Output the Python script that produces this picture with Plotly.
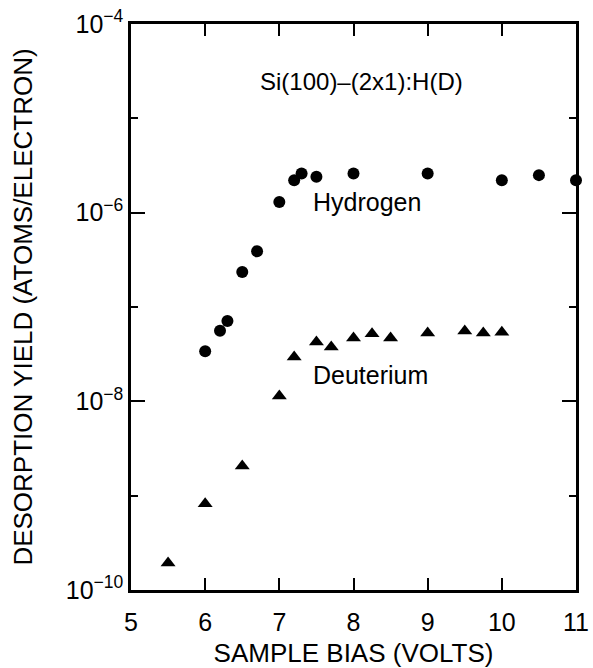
import plotly.graph_objects as go

# Hydrogen (circles)
h_bias = [6.0, 6.2, 6.3, 6.5, 6.7, 7.0, 7.2, 7.3, 7.5, 8.0, 9.0, 10.0, 10.5, 11.0]
h_yield = [3.4e-8, 5.6e-8, 7.1e-8, 2.35e-7, 3.9e-7, 1.3e-6, 2.2e-6, 2.6e-6, 2.4e-6,
           2.6e-6, 2.6e-6, 2.2e-6, 2.5e-6, 2.2e-6]

# Deuterium (triangles)
d_bias = [5.5, 6.0, 6.5, 7.0, 7.2, 7.5, 7.7, 8.0, 8.25, 8.5, 9.0, 9.5, 9.75, 10.0]
d_yield = [1.93e-10, 8.2e-10, 2.06e-9, 1.14e-8, 2.95e-8, 4.25e-8, 3.77e-8, 4.7e-8,
           5.2e-8, 4.7e-8, 5.3e-8, 5.56e-8, 5.3e-8, 5.4e-8]

x_ticks = [5, 6, 7, 8, 9, 10, 11]
y_tickvals = [1e-10, 1e-8, 1e-6, 1e-4]
y_ticktext = ["10<sup>−10</sup>", "10<sup>−8</sup>", "10<sup>−6</sup>", "10<sup>−4</sup>"]

FONT = "Liberation Sans, Arial, sans-serif"

fig = go.Figure()
fig.add_trace(go.Scatter(x=h_bias, y=h_yield, mode="markers", name="Hydrogen",
                         marker=dict(symbol="circle", size=12, color="black"),
                         cliponaxis=False))
fig.add_trace(go.Scatter(x=d_bias, y=d_yield, mode="markers", name="Deuterium",
                         marker=dict(symbol="triangle-up", size=13, color="black"),
                         cliponaxis=False))

fig.update_layout(
    width=593, height=668,
    margin=dict(l=131, r=17, t=24, b=78),
    paper_bgcolor="white", plot_bgcolor="white",
    showlegend=False,
    font=dict(family=FONT, color="black", size=25),
    xaxis=dict(range=[5, 11], tickvals=x_ticks, ticktext=[str(v) for v in x_ticks],
               showline=True, linecolor="black", linewidth=2.5, mirror="ticks",
               ticks="inside", ticklen=12, tickwidth=1.5, tickcolor="black",
               showgrid=False, zeroline=False, tickfont=dict(size=25),
               ticklabelstandoff=8, automargin=False,
               title=dict(text="SAMPLE BIAS (VOLTS)", font=dict(size=26), standoff=14)),
    yaxis=dict(type="log", range=[-10, -4], tickvals=y_tickvals, ticktext=y_ticktext,
               showline=True, linecolor="black", linewidth=2.5, mirror="ticks",
               ticks="inside", ticklen=14, tickwidth=1.5, tickcolor="black",
               minor=dict(dtick=1, ticks="inside", ticklen=7, tickwidth=1.5, tickcolor="black"),
               showgrid=False, zeroline=False, tickfont=dict(size=25), automargin=False,
               title=dict(text="DESORPTION YIELD (ATOMS/ELECTRON)", font=dict(size=26), standoff=26)),
    annotations=[
        dict(text="Si(100)–(2x1):H(D)", x=0.519, y=0.898, xref="paper", yref="paper",
             xanchor="center", yanchor="middle", showarrow=False, font=dict(size=24)),
        dict(text="Hydrogen", x=0.530, y=0.686, xref="paper", yref="paper",
             xanchor="center", yanchor="middle", showarrow=False, font=dict(size=25)),
        dict(text="Deuterium", x=0.539, y=0.380, xref="paper", yref="paper",
             xanchor="center", yanchor="middle", showarrow=False, font=dict(size=25)),
    ],
)

fig.write_html("out.html")
